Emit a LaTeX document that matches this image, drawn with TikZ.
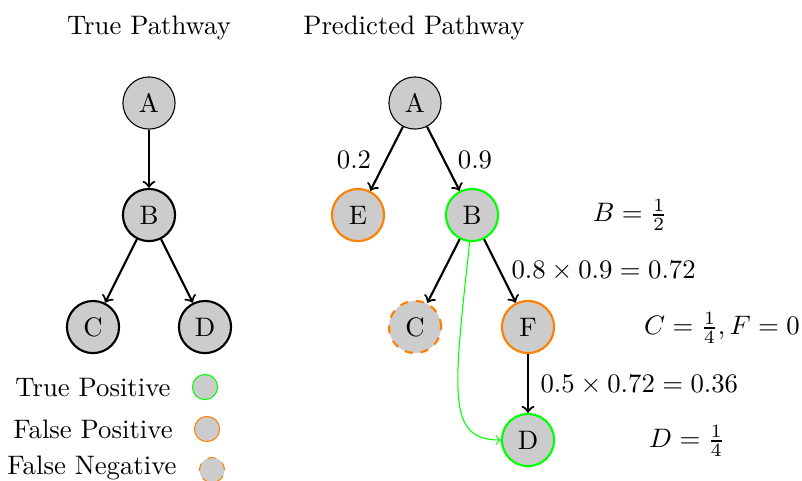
\documentclass[tikz,border=0pt]{standalone}
\begin{document}
\begin{tikzpicture}[x=0.37406pt, y=-0.37406pt,
  vert/.style={circle, fill=black!20, minimum size=19.5pt, inner sep=0pt},
  rootv/.style={vert, draw=black, thin},
  plainv/.style={vert, draw=black, thick},
  tpv/.style={vert, draw=green, thick},
  fpv/.style={vert, draw=orange, thick},
  fnv/.style={vert, draw=orange, thick, dashed},
  keyv/.style={circle, fill=black!20, minimum size=9.4pt, inner sep=0pt},
  arc/.style={->, thick},
  lbl/.style={inner sep=0pt}
]
\useasboundingbox (0,0) rectangle (802,480);

% titles
\node[lbl] (t1) at (149,28) {True Pathway};
\node[lbl] (t2) at (414,28) {Predicted Pathway};

% true pathway
\node[rootv]  (tA) at (149,103) {A};
\node[plainv] (tB) at (149,215) {B};
\node[plainv] (tC) at (93,327)  {C};
\node[plainv] (tD) at (205,327) {D};
\draw[arc] (tA) -- (tB);
\draw[arc] (tB) -- (tC);
\draw[arc] (tB) -- (tD);

% predicted pathway
\node[rootv] (pA) at (415,103) {A};
\node[fpv]   (pE) at (358,215) {E};
\node[tpv]   (pB) at (472,215) {B};
\node[fnv]   (pC) at (415,327) {C};
\node[fpv]   (pF) at (528,327) {F};
\node[tpv]   (pD) at (528,440) {D};
\draw[arc] (pA) -- (pE);
\draw[arc] (pA) -- (pB);
\draw[arc] (pB) -- (pC);
\draw[arc] (pB) -- (pF);
\draw[arc] (pF) -- (pD);
\draw[->, green] (pB.-95) .. controls +(-16,150) and +(-55,0) .. (pD.west);

% edge scores
\node[lbl] (s1) at (354,160) {0.2};
\node[lbl] (s2) at (475,160) {0.9};
\node[lbl, anchor=west] (s3) at (511,271) {$0.8\times0.9=0.72$};
\node[lbl, anchor=west] (s4) at (540,385) {$0.5\times0.72=0.36$};

% node scores
\node[lbl] (v1) at (630,215) {$B=\frac{1}{2}$};
\node[lbl] (v2) at (722,328) {$C=\frac{1}{4},F=0$};
\node[lbl] (v3) at (687,441) {$D=\frac{1}{4}$};

% legend
\node[lbl] (k1) at (93,387) {True Positive};
\node[lbl] (k2) at (93,429) {False Positive};
\node[lbl] (k3) at (92,468) {False Negative};
\node[keyv, draw=green, thin] (c1) at (205,387) {};
\node[keyv, draw=orange, thin] (c2) at (207,429) {};
\node[keyv, draw=orange, thin, dashed] (c3) at (212,470) {};
\end{tikzpicture}
\end{document}
